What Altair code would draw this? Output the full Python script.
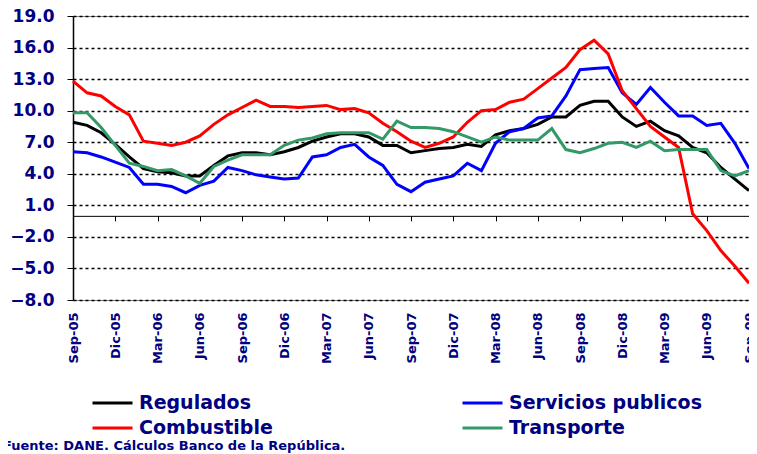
import altair as alt
import pandas as pd

series_names = ["Regulados", "Servicios publicos", "Combustible", "Transporte"]
series_colors = ["#000000", "#0000FF", "#FF0000", "#339966"]

regulados = [8.9, 8.6, 7.9, 6.8, 5.6, 4.5, 4.2, 4.1, 3.8, 3.8, 4.8, 5.7, 6.0, 6.0, 5.8, 6.1, 6.5, 7.1,
             7.5, 7.8, 7.8, 7.5, 6.7, 6.7, 6.0, 6.2, 6.4, 6.5, 6.8, 6.6, 7.7, 8.1, 8.3,
             8.7, 9.4, 9.4, 10.5, 10.9, 10.9, 9.4, 8.5, 9.0, 8.1, 7.6, 6.5, 6.0, 4.6, 3.5, 2.4]
servicios = [6.1, 6.0, 5.6, 5.1, 4.6, 3.0, 3.0, 2.8, 2.2, 2.9, 3.3, 4.6, 4.3, 3.9, 3.7, 3.5, 3.6, 5.6,
             5.8, 6.5, 6.8, 5.6, 4.8, 3.0, 2.3, 3.2, 3.5, 3.8, 5.0, 4.3, 6.9, 8.0, 8.3,
             9.3, 9.5, 11.4, 13.9, 14.0, 14.1, 11.7, 10.6, 12.2, 10.8, 9.5, 9.5, 8.6, 8.8, 6.9, 4.5]
combustible = [12.8, 11.7, 11.4, 10.4, 9.6, 7.1, 6.9, 6.7, 7.0, 7.6, 8.7, 9.6, 10.3, 11.0, 10.4, 10.4, 10.3, 10.4,
               10.5, 10.1, 10.2, 9.8, 8.8, 8.0, 7.1, 6.5, 6.9, 7.5, 8.9, 10.0, 10.1, 10.8, 11.1,
               12.1, 13.1, 14.1, 15.8, 16.7, 15.4, 11.9, 10.2, 8.5, 7.5, 6.5, 0.2, -1.4, -3.3, -4.8, -6.4]
transporte = [9.8, 9.8, 8.4, 6.7, 5.0, 4.7, 4.3, 4.4, 3.8, 3.1, 4.7, 5.3, 5.8, 5.8, 5.8, 6.7, 7.2, 7.4,
              7.8, 7.9, 7.9, 7.9, 7.3, 9.0, 8.4, 8.4, 8.3, 8.0, 7.5, 7.0, 7.5, 7.2, 7.2,
              7.2, 8.3, 6.3, 6.0, 6.4, 6.9, 7.0, 6.5, 7.1, 6.2, 6.3, 6.3, 6.3, 4.3, 3.8, 4.3]

tick_labels = ["Sep-05", "Dic-05", "Mar-06", "Jun-06", "Sep-06", "Dic-06", "Mar-07", "Jun-07",
               "Sep-07", "Dic-07", "Mar-08", "Jun-08", "Sep-08", "Dic-08", "Mar-09", "Jun-09", "Sep-09"]
y_ticks = [-8, -5, -2, 1, 4, 7, 10, 13, 16, 19]
source_text = "Fuente: DANE. Cálculos Banco de la República."

rows = []
for name, vals in zip(series_names, [regulados, servicios, combustible, transporte]):
    for i, v in enumerate(vals):
        rows.append({"serie": name, "mes": i, "valor": v})
df = pd.DataFrame(rows)

W, H = 676, 284
Y_MIN, Y_MAX = y_ticks[0], y_ticks[-1]
n_months = len(regulados) - 1
zero_offset = -H * (0 - Y_MIN) / (Y_MAX - Y_MIN)

FONT = "DejaVu Sans"
NAVY = "#000080"

xscale = alt.Scale(domain=[0, n_months], nice=False, zero=False)
yscale = alt.Scale(domain=[Y_MIN, Y_MAX], nice=False, zero=False)
tick_vals = list(range(0, n_months + 1, 3))
label_expr = "[" + ",".join(f"'{t}'" for t in tick_labels) + "][round(datum.value/3)]"

lines = alt.Chart(df).mark_line(strokeWidth=3).encode(
    x=alt.X("mes:Q", scale=xscale, axis=alt.Axis(
        orient="bottom", values=tick_vals, labelExpr=label_expr, labelAngle=270,
        labelAlign="right", labelBaseline="middle", labelPadding=12, ticks=False,
        domain=False, grid=False, title=None, labelFont=FONT, labelFontWeight="bold",
        labelFontSize=13, labelColor=NAVY, labelOverlap=False)),
    y=alt.Y("valor:Q", scale=yscale, axis=alt.Axis(
        values=y_ticks, format=".1f", grid=True, gridDash=[3, 3], gridColor="#000000",
        gridWidth=1.5, domain=True, domainColor="#000000", domainWidth=1.5, ticks=True,
        tickSize=6, tickColor="#000000", labelPadding=13, labelFont=FONT,
        labelFontWeight="bold", labelFontSize=17, labelColor=NAVY, title=None)),
    color=alt.Color("serie:N", scale=alt.Scale(domain=series_names, range=series_colors),
                    legend=alt.Legend(
                        title=None, orient="none", legendX=18, legendY=377, columns=2,
                        direction="horizontal", clipHeight=20,
                        symbolType="stroke", symbolSize=1600, symbolStrokeWidth=3,
                        labelFont=FONT, labelFontSize=19, labelFontWeight="bold",
                        labelColor=NAVY, columnPadding=188, rowPadding=5, labelOffset=5,
                        padding=0, labelLimit=400)),
)

zero_axis = alt.Chart(df).mark_point(opacity=0).encode(
    x=alt.X("mes:Q", scale=xscale, axis=alt.Axis(
        orient="bottom", values=tick_vals, labels=False, ticks=True, tickSize=5,
        tickColor="#000000", domain=True, domainColor="#000000", domainWidth=1,
        grid=False, offset=zero_offset, title=None)),
)

source = alt.Chart(pd.DataFrame({"t": [source_text]})).mark_text(
    align="left", baseline="middle", font=FONT, fontSize=13, fontWeight="bold", color=NAVY
).encode(text="t:N", x=alt.value(-70), y=alt.value(430))

chart = alt.layer(lines, zero_axis, source).resolve_axis(x="independent").properties(
    width=W, height=H,
    padding={"left": 65, "top": 8, "right": 0, "bottom": 154},
    autosize=alt.AutoSizeParams(type="none"),
    background="white",
).configure_view(stroke="#808080", strokeWidth=1)

chart.save("out.html", embed_options={"renderer": "svg", "actions": False})
